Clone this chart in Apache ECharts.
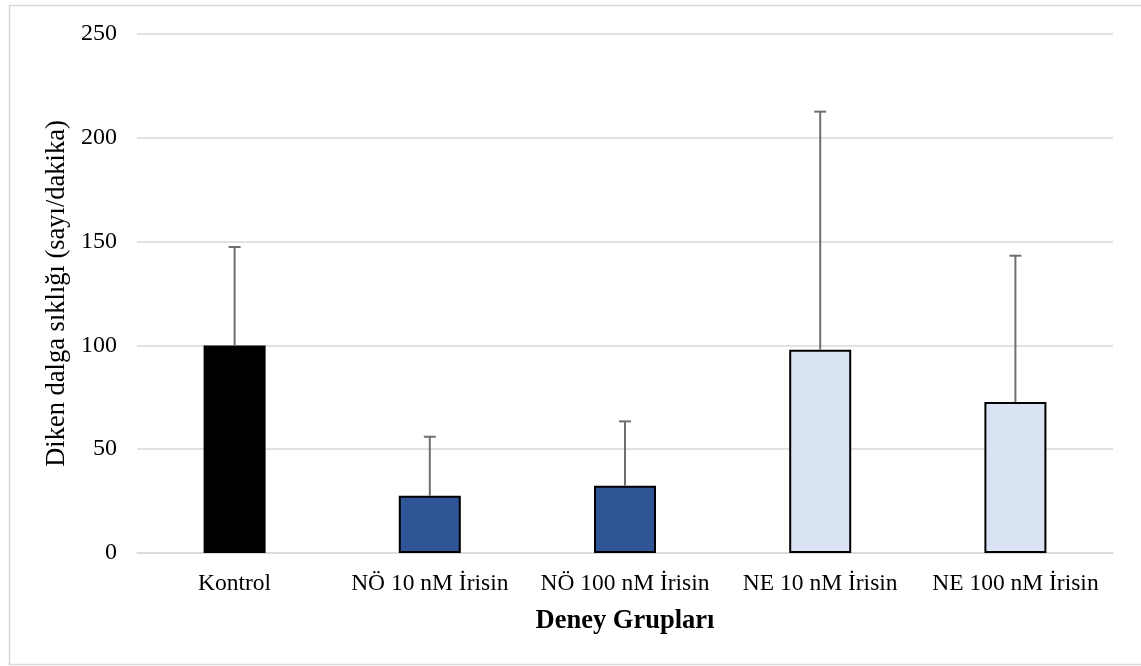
<!DOCTYPE html>
<html>
<head>
<meta charset="utf-8">
<style>
  html, body { margin: 0; padding: 0; background: #fff; }
  #chart { width: 1141px; height: 666px; }
</style>
<script src="https://cdn.jsdelivr.net/npm/echarts@6/dist/echarts.min.js"></script>
</head>
<body>
<div id="chart"></div>
<script>
// Groups, mean spike-wave frequency and standard deviation
const categories = ['Kontrol', 'NÖ 10 nM İrisin', 'NÖ 100 nM İrisin', 'NE 10 nM İrisin', 'NE 100 nM İrisin'];
const means = [100, 27.6, 32.4, 97.9, 72.7];
const sd = [47.4, 28.4, 31.0, 114.7, 70.5];
const barColors = ['#000000', '#2F5597', '#2F5597', '#DAE3F3', '#DAE3F3'];
const yTicks = [0, 50, 100, 150, 200, 250];

const FONT = '"Liberation Serif", "Times New Roman", serif';

const chart = echarts.init(document.getElementById('chart'));

chart.setOption({
  animation: false,
  backgroundColor: '#fff',
  graphic: [{
    type: 'rect',
    shape: { x: 9.5, y: 5.5, width: 1200, height: 659 },
    style: { fill: 'none', stroke: '#d9d9d9', lineWidth: 1.5 },
    silent: true,
    z: -10
  }],
  grid: { left: 137, right: 28, top: 34, bottom: 113 },
  xAxis: {
    type: 'category',
    data: categories,
    axisTick: { show: false },
    axisLine: { lineStyle: { color: '#d9d9d9', width: 1.5 } },
    axisLabel: { interval: 0, color: '#000', fontFamily: FONT, fontSize: 23.5, margin: 19 },
    name: 'Deney Grupları',
    nameLocation: 'middle',
    nameGap: 55,
    nameTextStyle: { color: '#000', fontFamily: FONT, fontSize: 26.5, fontWeight: 'bold' }
  },
  yAxis: {
    type: 'value',
    min: yTicks[0],
    max: yTicks[yTicks.length - 1],
    interval: 50,
    axisLine: { show: false },
    axisTick: { show: false },
    splitLine: { lineStyle: { color: '#d9d9d9', width: 1.5 } },
    axisLabel: { color: '#000', fontFamily: FONT, fontSize: 24, margin: 20 },
    name: 'Diken dalga sıklığı (sayı/dakika)',
    nameLocation: 'middle',
    nameGap: 66,
    nameTextStyle: { color: '#000', fontFamily: FONT, fontSize: 26.5 }
  },
  series: [
    {
      type: 'bar',
      barWidth: 62,
      data: means.map((v, i) => ({
        value: v,
        itemStyle: { color: barColors[i], borderColor: '#000', borderWidth: 2 }
      })),
      z: 2
    },
    {
      type: 'custom',
      z: 3,
      data: means.map((v, i) => [i, v, v + sd[i]]),
      renderItem: function (params, api) {
        const base = api.coord([api.value(0), api.value(1)]);
        const top = api.coord([api.value(0), api.value(2)]);
        const half = 6;
        const style = { stroke: '#6f6f6f', lineWidth: 2, fill: 'none' };
        return {
          type: 'group',
          children: [
            { type: 'line', shape: { x1: base[0], y1: base[1], x2: top[0], y2: top[1] }, style: style },
            { type: 'line', shape: { x1: top[0] - half, y1: top[1], x2: top[0] + half, y2: top[1] }, style: style }
          ]
        };
      }
    }
  ]
});
</script>
</body>
</html>
